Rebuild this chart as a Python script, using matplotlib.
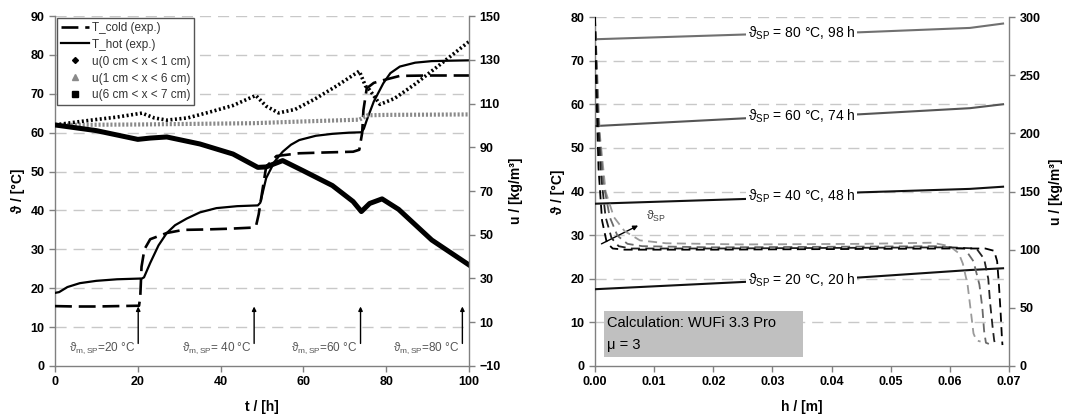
import matplotlib
matplotlib.use("Agg")
import matplotlib.pyplot as plt
from matplotlib.lines import Line2D
from matplotlib.patches import Rectangle

plt.rcParams['font.family'] = ['Liberation Sans', 'DejaVu Sans']
plt.rcParams['mathtext.fontset'] = 'custom'
plt.rcParams['mathtext.rm'] = 'Liberation Sans'
plt.rcParams['mathtext.it'] = 'Liberation Sans:italic'
plt.rcParams['mathtext.bf'] = 'Liberation Sans:bold'

# ---------------- Left chart data ----------------
t_hot = [0, 1, 3, 6, 10, 15, 21, 21.5, 23, 25, 27, 29, 31.8, 35, 39, 44, 49, 49.6, 51, 53, 55, 57, 59, 63, 67, 71, 74, 74.6, 75.3, 77, 79.3, 81, 83.3, 87, 91, 95, 100]
T_hot = [18.8, 19.0, 20.3, 21.3, 21.9, 22.3, 22.5, 22.8, 26.5, 31.0, 34.2, 36.2, 37.9, 39.5, 40.6, 41.1, 41.3, 42.0, 48.3, 52.5, 55.1, 56.9, 58.1, 59.2, 59.7, 60.0, 60.1, 61.0, 63.2, 68.0, 72.7, 75.3, 77.0, 78.0, 78.4, 78.5, 78.6]

t_cold = [0, 5, 10, 15, 20.3, 20.6, 20.9, 21.6, 23, 25, 27, 31, 36, 42, 48, 48.6, 49.2, 50, 51, 53.5, 59, 65, 72, 73.5, 74.2, 74.5, 75.3, 77, 79.3, 83.3, 90, 100]
T_cold = [15.4, 15.3, 15.3, 15.4, 15.5, 17.8, 25.5, 30.0, 32.6, 33.4, 34.2, 35.0, 35.1, 35.3, 35.6, 36.2, 39.0, 44.5, 51.2, 54.0, 54.7, 54.9, 55.1, 55.6, 60.0, 65.8, 71.4, 72.8, 73.5, 74.6, 74.7, 74.7]

t_u01 = [0, 5, 10, 15, 21, 24, 27, 32, 37, 43, 48.5, 51, 54, 58, 63, 68, 73.5, 75, 76, 78.5, 82, 87, 93, 100]
u_u01 = [100.2, 101.5, 102.7, 103.8, 105.6, 103.4, 102.4, 103.4, 105.9, 109.1, 113.7, 108.8, 105.7, 107.3, 112.3, 118.0, 124.8, 118.0, 116.2, 109.6, 112.3, 118.9, 127.8, 138.3]

t_u16 = [0, 20, 48, 60, 73.5, 75.5, 80, 90, 100]
u_u16 = [100.2, 100.4, 101.0, 101.8, 102.6, 104.6, 104.8, 104.9, 105.0]

t_u67 = [0, 10, 20, 23, 27, 35, 43, 49, 51, 55, 60, 67, 72, 74, 76, 79, 83, 91, 100]
u_u67 = [100.2, 97.6, 93.6, 94.2, 94.7, 91.5, 86.9, 80.8, 81.0, 83.9, 79.2, 72.5, 65.2, 60.6, 64.3, 66.4, 61.6, 47.6, 36.2]

sp_times = [20.1, 48.1, 73.8, 98.4]
sp_labels = ['20 °C', ' 40 °C', '60 °C', '80 °C']

# ---------------- Right chart data ----------------
h_sol = [0.0, 0.0256, 0.0448, 0.0634, 0.069]
T_sp80 = [74.9, 76.0, 76.5, 77.5, 78.5]
T_sp60 = [55.0, 56.8, 57.7, 59.1, 60.0]
T_sp40 = [37.2, 38.3, 39.8, 40.6, 41.1]
T_sp20 = [17.6, 19.3, 20.3, 22.0, 22.4]
sol_labels = ['80 °C, 98 h', '60 °C, 74 h', '40 °C, 48 h', '20 °C, 20 h']

h_u20 = [0, 0.0002, 0.0006, 0.0012, 0.002, 0.003, 0.005, 0.02, 0.04, 0.06, 0.066, 0.0675, 0.068, 0.0683, 0.0686, 0.0688, 0.0689]
u_u20 = [300, 240, 170, 125, 106, 101, 100, 100, 100.5, 101, 101, 99, 90, 70, 45, 25, 18]
h_u40 = [0, 0.0004, 0.001, 0.0018, 0.0028, 0.004, 0.006, 0.02, 0.04, 0.06, 0.0645, 0.0658, 0.0665, 0.0668, 0.0672, 0.0675, 0.0677, 0.068]
u_u40 = [300, 225, 165, 128, 110, 103, 101, 101, 101.5, 102, 101, 92, 75, 55, 35, 22, 18, 18]
h_u60 = [0, 0.0006, 0.0014, 0.0025, 0.0038, 0.0055, 0.008, 0.02, 0.04, 0.058, 0.0625, 0.064, 0.065, 0.0655, 0.0658, 0.0661, 0.0666]
u_u60 = [300, 210, 158, 128, 112, 105, 103, 102, 102.5, 103, 101, 90, 70, 50, 30, 20, 19]
h_u80 = [0, 0.0008, 0.0018, 0.0032, 0.005, 0.0076, 0.012, 0.025, 0.045, 0.057, 0.06, 0.0615, 0.0622, 0.063, 0.0636, 0.064, 0.0645, 0.0652]
u_u80 = [300, 200, 150, 128, 116, 108, 105.5, 104.5, 105, 106, 103, 97, 88, 70, 45, 28, 22, 21]

# ---------------- Figure ----------------
fig = plt.figure(figsize=(10.72, 4.19), dpi=100)
axL = fig.add_axes([0.0513, 0.1265, 0.3862, 0.8353])
axR = fig.add_axes([0.555, 0.1265, 0.3862, 0.8329])

SP = '#808080'
GRID = '#c8c8c8'
TICKFONT = dict(fontsize=9, fontweight='bold')


def style_axes(ax, ax2):
    for a in (ax, ax2):
        a.spines['top'].set_visible(False)
        for s in ('left', 'right', 'bottom'):
            a.spines[s].set_color(SP)
            a.spines[s].set_linewidth(1.0)
        a.tick_params(direction='out', length=4, width=1, color=SP, labelsize=9)
        for lab in a.get_xticklabels() + a.get_yticklabels():
            lab.set_fontweight('bold')
    ax2.spines['left'].set_visible(False)
    ax2.spines['bottom'].set_visible(False)
    ax.spines['right'].set_visible(False)


# ---- left chart ----
axL2 = axL.twinx()
axL.set_xlim(0, 100)
axL.set_ylim(0, 90)
axL2.set_ylim(-10, 150)
axL.set_xticks(range(0, 101, 20))
axL.set_yticks(range(0, 91, 10))
axL2.set_yticks(range(-10, 151, 20))
for yv in range(10, 91, 10):
    axL.axhline(yv, color=GRID, lw=1, ls=(0, (8, 5)), zorder=0)

axL.plot(t_cold, T_cold, color='black', lw=1.9, ls=(0, (6.4, 2.6)), zorder=3)
axL.plot(t_hot, T_hot, color='black', lw=1.6, zorder=3)
axL2.plot(t_u16, u_u16, color='#8a8a8a', lw=3.0, ls=(0, (0.5, 0.45)), zorder=2)
axL2.plot(t_u01, u_u01, color='black', lw=2.6, ls=(0, (0.55, 0.7)), zorder=2)
axL2.plot(t_u67, u_u67, color='black', lw=3.6, zorder=2)

for tt, lab in zip(sp_times, sp_labels):
    axL.annotate('', xy=(tt, 15.3), xytext=(tt, 5.8),
                 arrowprops=dict(arrowstyle='-|>', color='black', lw=1.0, mutation_scale=6,
                                 shrinkA=0, shrinkB=0))
    axL.text(tt - 0.7, 4.7, r'ϑ$_{\mathrm{m,SP}}$=' + lab, ha='right', va='center',
             fontsize=8.5, color='#555555')

axL.set_xlabel('t / [h]', fontsize=10, fontweight='bold', labelpad=8)
axL.set_ylabel('ϑ / [°C]', fontsize=10, fontweight='bold', labelpad=4)
axL2.set_ylabel('u / [kg/m³]', fontsize=10, fontweight='bold', labelpad=6)

handles = [
    Line2D([], [], color='black', lw=1.9, ls=(0, (6.4, 2.6))),
    Line2D([], [], color='black', lw=1.6),
    Line2D([], [], color='black', ls='none', marker='D', ms=3),
    Line2D([], [], color='#8a8a8a', ls='none', marker='^', ms=4.5),
    Line2D([], [], color='black', ls='none', marker='s', ms=4.5),
]
labels = ['T_cold (exp.)', 'T_hot (exp.)', 'u(0 cm < x < 1 cm)', 'u(1 cm < x < 6 cm)', 'u(6 cm < x < 7 cm)']
leg = axL.legend(handles, labels, loc='upper left', bbox_to_anchor=(0.006, 0.994),
                 fontsize=8.5, frameon=True, fancybox=False, framealpha=1,
                 edgecolor='#555555', borderpad=0.3, labelspacing=0.42,
                 handlelength=2.4, handletextpad=0.2, borderaxespad=0)
leg.get_frame().set_linewidth(1.0)
for txt in leg.get_texts():
    txt.set_color('#333333')
leg.set_zorder(10)
style_axes(axL, axL2)

# ---- right chart ----
axR2 = axR.twinx()
axR.set_xlim(0, 0.07)
axR.set_ylim(0, 80)
axR2.set_ylim(0, 300)
axR.set_xticks([0.0, 0.01, 0.02, 0.03, 0.04, 0.05, 0.06, 0.07])
axR.set_xticklabels(['0.00', '0.01', '0.02', '0.03', '0.04', '0.05', '0.06', '0.07'])
axR.set_yticks(range(0, 81, 10))
axR2.set_yticks(range(0, 301, 50))
for yv in range(10, 81, 10):
    axR.axhline(yv, color=GRID, lw=1, ls=(0, (8, 5)), zorder=0)

dash_u = (0, (5, 3))
axR2.plot(h_u80, u_u80, color='#9a9a9a', lw=1.3, ls=dash_u)
axR2.plot(h_u60, u_u60, color='#6a6a6a', lw=1.3, ls=dash_u)
axR2.plot(h_u40, u_u40, color='#222222', lw=1.3, ls=dash_u)
axR2.plot(h_u20, u_u20, color='black', lw=1.3, ls=dash_u)

sol_series = [T_sp80, T_sp60, T_sp40, T_sp20]
sol_colors = ['#707070', '#555555', '#111111', '#111111']
for ser, col, lab in zip(sol_series, sol_colors, sol_labels):
    axR.plot(h_sol, ser, color=col, lw=1.5, zorder=4)
    ymid = ser[1] + (ser[2] - ser[1]) * 0.45
    axR.text(0.0349, ymid, r'ϑ$_{\mathrm{SP}}$ = ' + lab, ha='center', va='center',
             fontsize=10, color='black', zorder=5,
             bbox=dict(facecolor='white', edgecolor='none', pad=1.0))

axR.annotate('', xy=(0.0073, 32.2), xytext=(0.0011, 28.0),
             arrowprops=dict(arrowstyle='-|>', color='black', lw=1.0, mutation_scale=7,
                             shrinkA=0, shrinkB=0), zorder=6)
axR.text(0.0086, 34.2, r'ϑ$_{\mathrm{SP}}$', fontsize=9, color='#444444', va='center', ha='left')

axR.add_patch(Rectangle((0.0015, 2.1), 0.0337, 10.5, facecolor='#c0c0c0', edgecolor='none', zorder=6))
axR.text(0.0021, 9.9, 'Calculation: WUFi 3.3 Pro', fontsize=10.5, va='center', ha='left', zorder=7)
axR.text(0.0021, 4.8, 'μ = 3', fontsize=10.5, va='center', ha='left', zorder=7)

axR.set_xlabel('h / [m]', fontsize=10, fontweight='bold', labelpad=8)
axR.set_ylabel('ϑ / [°C]', fontsize=10, fontweight='bold', labelpad=4)
axR2.set_ylabel('u / [kg/m³]', fontsize=10, fontweight='bold', labelpad=6)
style_axes(axR, axR2)

fig.savefig('out.png', dpi=100)
